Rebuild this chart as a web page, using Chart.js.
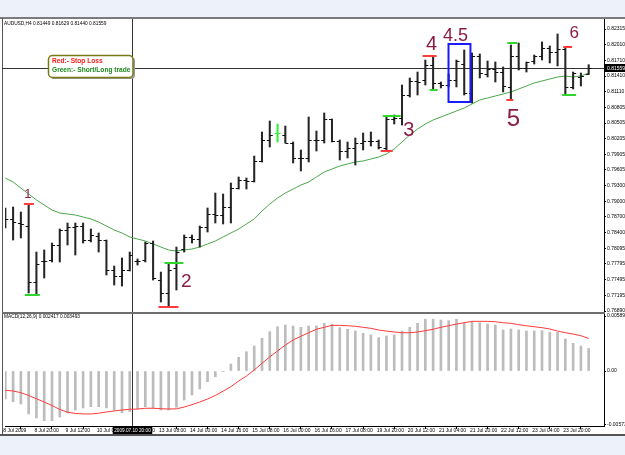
<!DOCTYPE html>
<html>
<head>
<meta charset="UTF-8" />
<title>AUDUSD,H4</title>
<script src="https://cdn.jsdelivr.net/npm/chart.js"></script>
<style>
  html, body { margin: 0; padding: 0; background: #edf1fa; }
  canvas { display: block; }
</style>
</head>
<body>
<canvas id="chart" width="625" height="455"></canvas>

<script>
// AUDUSD H4 bars, bar 0 = 8 Jul 2009 04:00, bar 75 = 23 Jul 2009 20:00
const opens = [0.78660, 0.78660, 0.78583, 0.78525, 0.77448, 0.77833, 0.77871, 0.78160, 0.78448, 0.78506,
  0.78525, 0.78256, 0.78333, 0.78237, 0.77679, 0.77563, 0.77679, 0.77833, 0.77871, 0.78198,
  0.77486, 0.77236, 0.77717, 0.78064, 0.78295, 0.78275, 0.78506, 0.78756, 0.78718, 0.78891,
  0.79256, 0.79410, 0.79391, 0.79757, 0.80161, 0.80296, 0.80276, 0.80122, 0.79815, 0.79815,
  0.80180, 0.80180, 0.80565, 0.80142, 0.79968, 0.80007, 0.80122, 0.80142, 0.80142, 0.80026,
  0.80565, 0.80603, 0.81027, 0.81296, 0.81334, 0.81604, 0.81258, 0.81238, 0.81334, 0.81642,
  0.81084, 0.81796, 0.81431, 0.81527, 0.81488, 0.81181, 0.81777, 0.81565, 0.81681, 0.81777,
  0.81950, 0.81854, 0.81912, 0.81181, 0.81392, 0.81449];
const highs = [0.78872, 0.78891, 0.78795, 0.78949, 0.78025, 0.78064, 0.78198, 0.78468, 0.78583, 0.78583,
  0.78583, 0.78468, 0.78391, 0.78256, 0.77756, 0.77910, 0.78025, 0.77891, 0.78218, 0.78237,
  0.77640, 0.77814, 0.78121, 0.78352, 0.78352, 0.78525, 0.78872, 0.79160, 0.79141, 0.79353,
  0.79468, 0.79449, 0.79872, 0.80334, 0.80546, 0.80488, 0.80449, 0.80142, 0.79988, 0.80623,
  0.80353, 0.80700, 0.80584, 0.80180, 0.80142, 0.80219, 0.80315, 0.80334, 0.80180, 0.80642,
  0.80661, 0.81238, 0.81373, 0.81488, 0.81719, 0.81777, 0.81296, 0.81450, 0.81719, 0.81912,
  0.81854, 0.81835, 0.81700, 0.81681, 0.81585, 0.82008, 0.82046, 0.81681, 0.81815, 0.82066,
  0.81989, 0.82220, 0.81950, 0.81488, 0.81469, 0.81629];
const lows = [0.78487, 0.78256, 0.78295, 0.77236, 0.77198, 0.77525, 0.77833, 0.77833, 0.78160, 0.77967,
  0.78198, 0.78218, 0.78025, 0.77583, 0.77390, 0.77371, 0.77660, 0.77775, 0.77833, 0.77486,
  0.77063, 0.76967, 0.77294, 0.78025, 0.78198, 0.78121, 0.78410, 0.78583, 0.78564, 0.78583,
  0.79237, 0.79237, 0.79372, 0.79757, 0.80045, 0.80142, 0.80122, 0.79738, 0.79584, 0.79757,
  0.79968, 0.80122, 0.80142, 0.79795, 0.79834, 0.79699, 0.79988, 0.80065, 0.80007, 0.79968,
  0.80488, 0.80469, 0.81007, 0.81046, 0.81238, 0.81161, 0.81181, 0.81200, 0.81200, 0.81046,
  0.80892, 0.81373, 0.81392, 0.81296, 0.81104, 0.80950, 0.81527, 0.81488, 0.81642, 0.81719,
  0.81662, 0.81604, 0.81046, 0.81161, 0.81219, 0.81440];
const closes = [0.78641, 0.78602, 0.78564, 0.77448, 0.77794, 0.77852, 0.78141, 0.78448, 0.78506, 0.78525,
  0.78237, 0.78352, 0.78237, 0.77679, 0.77563, 0.77679, 0.77967, 0.77852, 0.78198, 0.77506,
  0.77236, 0.77679, 0.78025, 0.78295, 0.78275, 0.78506, 0.78756, 0.78718, 0.78891, 0.79256,
  0.79410, 0.79391, 0.79757, 0.80161, 0.80276, 0.80296, 0.80122, 0.79815, 0.79815, 0.80161,
  0.80180, 0.80565, 0.80142, 0.79968, 0.80007, 0.80122, 0.80142, 0.80142, 0.80045, 0.80584,
  0.80603, 0.81027, 0.81296, 0.81277, 0.81604, 0.81258, 0.81238, 0.81334, 0.81681, 0.81084,
  0.81796, 0.81450, 0.81527, 0.81488, 0.81200, 0.81777, 0.81565, 0.81662, 0.81777, 0.81950,
  0.81854, 0.81912, 0.81181, 0.81469, 0.81411, 0.81559];
const movingAvg = [0.79449, 0.79372, 0.79256, 0.79141, 0.79026, 0.78929, 0.78833, 0.78776, 0.78756, 0.78737,
  0.78699, 0.78660, 0.78602, 0.78525, 0.78448, 0.78391, 0.78314, 0.78275, 0.78237, 0.78179,
  0.78121, 0.78064, 0.78044, 0.78064, 0.78083, 0.78121, 0.78179, 0.78237, 0.78314, 0.78391,
  0.78468, 0.78564, 0.78660, 0.78814, 0.78949, 0.79064, 0.79160, 0.79237, 0.79314, 0.79372,
  0.79468, 0.79564, 0.79622, 0.79680, 0.79718, 0.79757, 0.79776, 0.79815, 0.79853, 0.79911,
  0.80007, 0.80142, 0.80276, 0.80392, 0.80488, 0.80565, 0.80623, 0.80680, 0.80738, 0.80796,
  0.80873, 0.80950, 0.80988, 0.81027, 0.81065, 0.81104, 0.81161, 0.81219, 0.81277, 0.81315,
  0.81354, 0.81392, 0.81411, 0.81392, 0.81411, 0.81469];
const macdHist = [-0.00300, -0.00329, -0.00353, -0.00460, -0.00503, -0.00532, -0.00532, -0.00493, -0.00450, -0.00418,
  -0.00396, -0.00382, -0.00382, -0.00396, -0.00418, -0.00447, -0.00436, -0.00407, -0.00382, -0.00396,
  -0.00418, -0.00418, -0.00389, -0.00311, -0.00257, -0.00193, -0.00115, -0.00061, -0.00008, 0.00075,
  0.00147, 0.00207, 0.00268, 0.00350, 0.00421, 0.00474, 0.00493, 0.00482, 0.00468, 0.00482,
  0.00482, 0.00511, 0.00500, 0.00464, 0.00447, 0.00428, 0.00404, 0.00386, 0.00357, 0.00375,
  0.00386, 0.00428, 0.00468, 0.00511, 0.00554, 0.00554, 0.00546, 0.00539, 0.00554, 0.00517,
  0.00528, 0.00517, 0.00503, 0.00493, 0.00439, 0.00450, 0.00439, 0.00428, 0.00428, 0.00432,
  0.00414, 0.00414, 0.00343, 0.00297, 0.00268, 0.002417];
const macdSignal = [-0.00206, -0.00214, -0.00232, -0.00262, -0.00297, -0.00332, -0.00369, -0.00412, -0.00441, -0.00454,
  -0.00460, -0.00460, -0.00452, -0.00439, -0.00428, -0.00418, -0.00410, -0.00407, -0.00399, -0.00399,
  -0.00404, -0.00407, -0.00405, -0.00386, -0.00360, -0.00332, -0.00300, -0.00262, -0.00216, -0.00168,
  -0.00107, -0.00054, 0.00011, 0.00082, 0.00152, 0.00214, 0.00278, 0.00332, 0.00372, 0.00410,
  0.00447, 0.00468, 0.00489, 0.00489, 0.00485, 0.00479, 0.00468, 0.00457, 0.00439, 0.00428,
  0.00418, 0.00410, 0.00410, 0.00418, 0.00432, 0.00447, 0.00468, 0.00485, 0.00503, 0.00517,
  0.00532, 0.00532, 0.00532, 0.00528, 0.00517, 0.00511, 0.00496, 0.00485, 0.00474, 0.00464,
  0.00450, 0.00428, 0.00410, 0.00396, 0.00378, 0.003493];

const priceTicks = [0.82315, 0.82010, 0.81710, 0.81410, 0.81110, 0.80805, 0.80505, 0.80205, 0.79905, 0.79605,
  0.79300, 0.79000, 0.78700, 0.78400, 0.78095, 0.77795, 0.77495, 0.77195, 0.76890];
const macdTicks = [0.00589, 0, -0.00573];
const macdTickLabels = ['0.005890', '0.00', '-0.00573'];
const dateTickBars = [0, 4, 8, 12, 16, 20, 24, 28, 32, 36, 40, 44, 48, 52, 56, 60, 64, 68, 72];
const dateTickLabels = ['8 Jul 2009', '8 Jul 20:00', '9 Jul 12:00', '10 Jul 04:00', '10 Jul 20:00', '13 Jul 08:00',
  '14 Jul 00:00', '14 Jul 16:00', '15 Jul 08:00', '16 Jul 00:00', '16 Jul 16:00', '17 Jul 08:00', '19 Jul 20:00',
  '20 Jul 12:00', '21 Jul 04:00', '21 Jul 20:00', '22 Jul 12:00', '23 Jul 04:00', '23 Jul 20:00'];

// stop loss (red) and trade entry (green) levels: from bar, to bar, price
const levelFrom = [2.39, 2.52, 19.69, 20.46, 48.27, 48.53, 53.65, 54.55, 64.54, 64.41, 71.72, 71.59];
const levelTo = [3.68, 4.44, 22.26, 22.90, 49.81, 50.83, 55.45, 55.57, 65.82, 65.31, 72.87, 73.39];
const levelPrice = [0.78949, 0.77198, 0.76967, 0.77814, 0.79968, 0.80642, 0.81796, 0.81142, 0.82046, 0.80950, 0.81969, 0.81046];
const levelKind = ['stop', 'trade', 'stop', 'trade', 'stop', 'trade', 'stop', 'trade', 'trade', 'stop', 'stop', 'trade'];

// hand written marks
const noteText = ['1', '2', '3', '4', '4.5', '5', '6'];
const noteBar = [2.91, 23.28, 51.86, 54.80, 57.88, 65.31, 73.13];
const notePrice = [0.79141, 0.77448, 0.80372, 0.82017, 0.82171, 0.80584, 0.82239];
const noteSize = [13, 19, 20, 20, 18, 24, 17];

const boxBars = [56.98, 59.80];
const boxPrices = [0.82027, 0.80911];
const markedBar = 35;
const crossBar = 16.23;
const crossLabel = '2009.07.10 20:00';
const bidPrice = closes[closes.length - 1];

const FONT = '"Liberation Sans", Arial, sans-serif';
Chart.defaults.font.family = FONT;

function tickImage(side, color) {
  const cv = document.createElement('canvas');
  cv.width = 8; cv.height = 1;
  const g = cv.getContext('2d');
  g.fillStyle = color;
  g.fillRect(side === 'open' ? 1 : 4, 0, 3, 1);
  return cv;
}
const openTick = tickImage('open', '#101010'), closeTick = tickImage('close', '#101010');
const openTickG = tickImage('open', '#33ee33'), closeTickG = tickImage('close', '#33ee33');

const idx = opens.map((_, i) => i);

const levelSets = levelFrom.map((f, k) => ({
  type: 'line',
  data: [{ x: f, y: levelPrice[k] }, { x: levelTo[k], y: levelPrice[k] }],
  borderColor: levelKind[k] === 'stop' ? '#ff3c3c' : '#2ed62e',
  borderWidth: 2,
  pointRadius: 0,
  yAxisID: 'y'
}));

const decor = {
  id: 'decor',
  beforeDraw(chart) {
    const c = chart.ctx;
    c.save();
    c.fillStyle = '#edf1fa'; c.fillRect(0, 0, 625, 455);
    c.fillStyle = '#ffffff'; c.fillRect(0, 18, 625, 418);
    c.fillStyle = '#7b7b7b'; c.fillRect(0, 17, 625, 2);
    c.fillStyle = '#555555'; c.fillRect(2, 18, 1, 417); c.fillRect(0, 434, 625, 2);
    c.restore();
  },
  beforeDatasetsDraw(chart) {
    const c = chart.ctx, a = chart.chartArea, xs = chart.scales.x, ys = chart.scales.y;
    c.save();
    c.strokeStyle = '#333333'; c.lineWidth = 1;
    const py = Math.round(ys.getPixelForValue(bidPrice)) + 0.5;
    c.beginPath(); c.moveTo(2, py); c.lineTo(a.right, py); c.stroke();
    const px = Math.round(xs.getPixelForValue(crossBar)) + 0.5;
    c.beginPath(); c.moveTo(px, a.top); c.lineTo(px, a.bottom); c.stroke();
    c.restore();
  },
  afterDraw(chart) {
    const c = chart.ctx, a = chart.chartArea, xs = chart.scales.x, ys = chart.scales.y, ms = chart.scales.macd;
    c.save();
    // pane separator
    c.fillStyle = '#6e6e6e';
    c.fillRect(2, Math.round(ms.top), a.right - 1, 2);

    // blue box
    c.strokeStyle = '#1a1aff'; c.lineWidth = 2;
    const bx0 = xs.getPixelForValue(boxBars[0]), bx1 = xs.getPixelForValue(boxBars[1]);
    const by0 = ys.getPixelForValue(boxPrices[0]), by1 = ys.getPixelForValue(boxPrices[1]);
    c.strokeRect(bx0, by0, bx1 - bx0, by1 - by0);

    // hand written numbers
    c.fillStyle = '#8c1c44'; c.textAlign = 'center'; c.textBaseline = 'middle';
    noteText.forEach((t, k) => {
      c.font = noteSize[k] + 'px ' + FONT;
      c.fillText(t, xs.getPixelForValue(noteBar[k]), ys.getPixelForValue(notePrice[k]));
    });

    // legend label
    c.fillStyle = '#9a9a9a';
    c.beginPath(); c.roundRect(50, 57, 85, 22, 4); c.fill();
    c.fillStyle = '#ffffff'; c.strokeStyle = '#7a7a14'; c.lineWidth = 1.5;
    c.beginPath(); c.roundRect(48.5, 55.5, 84.5, 22, 4); c.fill(); c.stroke();
    c.textAlign = 'left';
    c.font = 'bold 6.6px ' + FONT;
    c.fillStyle = '#ff1a1a'; c.fillText('Red:- Stop Loss', 52, 61.5);
    c.fillStyle = '#1a8a1a'; c.fillText('Green:- Short/Long trade', 52, 70);

    // indicator titles
    const last = opens.length - 1;
    c.fillStyle = '#000000';
    c.font = '4.8px ' + FONT;
    c.fillText('AUDUSD,H4 ' + [opens[last], highs[last], lows[last], closes[last]].map(v => v.toFixed(5)).join(' '), 4, 24);
    c.fillText('MACD(12,26,9) ' + macdHist[last].toFixed(6) + ' ' + macdSignal[last].toFixed(6), 4, 317);

    // current price box
    const py = Math.round(ys.getPixelForValue(bidPrice));
    c.fillStyle = '#000000'; c.fillRect(605, py - 4, 20, 8);
    c.fillStyle = '#ffffff'; c.font = '5px ' + FONT;
    c.fillText(bidPrice.toFixed(5), 607, py + 0.5);

    // crosshair date box
    const px = Math.round(xs.getPixelForValue(crossBar)) + 0.5;
    c.font = '4.7px ' + FONT;
    const w = c.measureText(crossLabel).width + 3;
    c.fillStyle = '#000000'; c.fillRect(px - w / 2, 427, w, 7);
    c.fillStyle = '#ffffff'; c.textAlign = 'center';
    c.fillText(crossLabel, px, 430.7);
    c.restore();
  }
};

new Chart(document.getElementById('chart'), {
  type: 'bar',
  data: {
    datasets: [
      ...levelSets,
      {
        type: 'line', data: idx.map(i => ({ x: i, y: opens[i] })), showLine: false,
        pointRadius: 3, pointStyle: c => c.dataIndex === markedBar ? openTickG : openTick, yAxisID: 'y'
      },
      {
        type: 'line', data: idx.map(i => ({ x: i, y: closes[i] })), showLine: false,
        pointRadius: 3, pointStyle: c => c.dataIndex === markedBar ? closeTickG : closeTick, yAxisID: 'y'
      },
      {
        type: 'bar', data: idx.map(i => ({ x: i, y: [lows[i], highs[i]] })),
        backgroundColor: c => c.dataIndex === markedBar ? '#33ee33' : '#262626',
        barThickness: 1.4, grouped: false, borderWidth: 0, yAxisID: 'y'
      },
      {
        type: 'line', data: idx.map(i => ({ x: i, y: movingAvg[i] })),
        borderColor: '#4aa84a', borderWidth: 1, pointRadius: 0, tension: 0, yAxisID: 'y'
      },
      {
        type: 'line', data: idx.map(i => ({ x: i, y: macdSignal[i] })),
        borderColor: '#ff3b3b', borderWidth: 1, pointRadius: 0, tension: 0, yAxisID: 'macd'
      },
      {
        type: 'bar', data: idx.map(i => ({ x: i, y: macdHist[i] })),
        backgroundColor: '#bcbcbc', barThickness: 2, grouped: false, borderWidth: 0, yAxisID: 'macd'
      }
    ]
  },
  options: {
    responsive: false,
    animation: false,
    events: [],
    layout: { padding: { top: 19, left: 3, right: 0, bottom: 20 } },
    plugins: { legend: { display: false }, tooltip: { enabled: false } },
    scales: {
      x: {
        type: 'linear', position: 'bottom', offset: false,
        min: -0.04, max: 76.97,
        afterBuildTicks: s => { s.ticks = dateTickBars.map(v => ({ value: v })); },
        afterFit: s => { s.height = 9; },
        ticks: {
          autoSkip: false, maxRotation: 0, align: 'start', labelOffset: -2, padding: -1,
          font: { size: 5 }, color: '#000',
          callback: (v, i) => dateTickLabels[i]
        },
        grid: { drawOnChartArea: false, tickLength: 3, color: '#000' },
        border: { color: '#000' }
      },
      y: {
        type: 'linear', position: 'right', stack: 'panes', stackWeight: 293,
        min: 0.76871, max: 0.82508,
        afterBuildTicks: s => { s.ticks = priceTicks.map(v => ({ value: v })); },
        afterFit: s => { s.width = 21; },
        ticks: { autoSkip: false, padding: 1, font: { size: 5 }, color: '#000', callback: v => v.toFixed(5) },
        grid: { drawOnChartArea: false, tickLength: 2, color: '#000' },
        border: { color: '#000' }
      },
      macd: {
        type: 'linear', position: 'right', stack: 'panes', stackWeight: 114,
        min: -0.00589, max: 0.00632,
        afterBuildTicks: s => { s.ticks = macdTicks.map(v => ({ value: v })); },
        afterFit: s => { s.width = 21; },
        ticks: { autoSkip: false, padding: 1, font: { size: 5 }, color: '#000', callback: (v, i) => macdTickLabels[i] },
        grid: { drawOnChartArea: false, tickLength: 2, color: '#000' },
        border: { color: '#000' }
      }
    }
  },
  plugins: [decor]
});
</script>
</body>
</html>
